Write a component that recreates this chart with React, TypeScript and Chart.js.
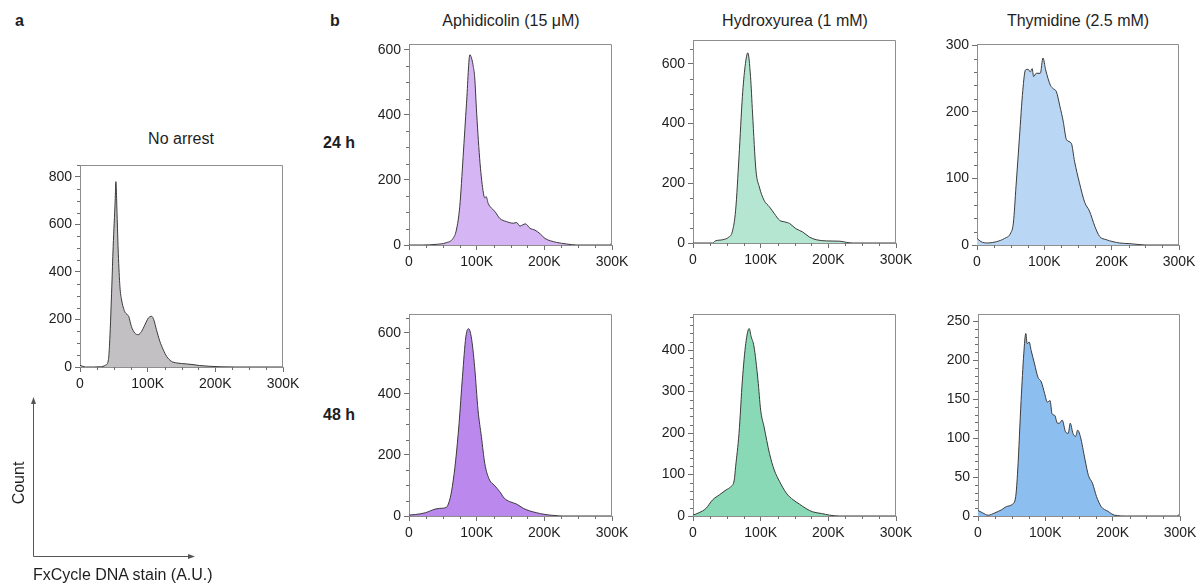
import React, { useEffect, useRef } from 'react';
import { Chart, registerables } from 'chart.js';

Chart.register(...registerables);

const FONT = '"Liberation Sans", Arial, Helvetica, sans-serif';

// ---- Data (x in K units of FxCycle stain, y = count) ----
const noArrestX = [0, 4, 8, 20, 30, 38, 42, 44, 47, 49, 52, 53, 55, 56.6, 59, 61.5, 66, 70, 72, 76, 81, 86, 91, 96, 101, 106, 109, 113, 118, 123, 128, 135, 143, 157, 167, 177, 192, 207, 230, 300];
const noArrestY = [7, 3, 0, 0, 1, 8, 31, 115, 338, 506, 702, 780, 620, 478, 338, 282, 234, 220, 213, 170, 143, 136, 150, 178, 206, 213, 199, 157, 108, 73, 45, 24, 17, 13, 10, 6, 3, 1, 0, 0];

const aph24X = [0, 20, 40, 55, 65, 70, 75, 80, 85, 90, 93, 95, 97, 100, 105, 110, 112, 114, 117, 122, 127, 134, 144, 154, 159, 164, 168, 172, 179, 186, 194, 201, 209, 218, 233, 248, 296, 300];
const aph24Y = [0, 0, 2, 7, 20, 46, 118, 272, 436, 585, 570, 549, 518, 405, 251, 159, 145, 149, 128, 113, 103, 82, 72, 67, 69, 58, 62, 65, 51, 46, 34, 20, 13, 8, 3, 0, 0, 7];

const hyd24X = [0, 29, 33, 44, 53, 58, 63, 68, 73, 77, 81, 85, 88, 93, 98, 105, 113, 120, 128, 135, 140, 143, 152, 162, 172, 182, 197, 217, 227, 237, 300];
const hyd24Y = [0, 0, 7, 11, 20, 37, 110, 289, 491, 592, 637, 558, 435, 244, 188, 143, 121, 99, 76, 71, 68, 65, 48, 37, 20, 11, 7, 6, 2, 0, 0];

const thy24X = [0, 6, 16, 29, 41, 50, 54, 58, 63, 68, 72, 76, 79, 82, 84, 88, 94, 98, 102, 109, 113, 118, 123, 128, 133, 140, 145, 152, 160, 167, 175, 182, 192, 202, 212, 227, 251, 300];
const thy24Y = [10, 5, 3, 5, 10, 18, 33, 89, 161, 232, 263, 264, 260, 265, 253, 258, 258, 281, 263, 240, 235, 230, 209, 186, 158, 153, 125, 94, 64, 51, 28, 13, 8, 5, 3, 2, 0, 0];

const aph48X = [0, 10, 25, 35, 45, 55, 60, 64, 69, 74, 79, 84, 88, 92, 97, 102, 107, 112, 119, 126, 134, 141, 149, 159, 169, 178, 188, 201, 213, 228, 300];
const aph48Y = [3, 5, 11, 20, 25, 28, 52, 96, 183, 303, 456, 587, 614, 587, 489, 347, 260, 172, 118, 101, 80, 58, 47, 39, 25, 17, 11, 5, 2, 0, 0];

const hyd48X = [0, 9, 19, 29, 39, 49, 56, 61, 63, 68, 73, 78, 83, 86, 90, 96, 100, 105, 113, 120, 128, 138, 148, 157, 167, 177, 190, 202, 217, 300];
const hyd48Y = [2, 8, 18, 39, 51, 63, 71, 87, 119, 199, 328, 416, 452, 432, 410, 328, 255, 215, 151, 111, 83, 55, 39, 29, 18, 10, 6, 2, 0, 0];

const thy48X = [0, 7, 15, 25, 35, 42, 51, 56, 59, 64, 68, 71, 73, 76, 79, 84, 89, 94, 99, 103, 107, 110, 114, 118, 121, 125, 130, 134, 137, 141, 145, 148, 152, 159, 164, 170, 176, 183, 193, 203, 221, 295, 300];
const thy48Y = [7, 4, 1, 4, 8, 12, 15, 25, 59, 148, 208, 234, 221, 223, 212, 195, 178, 172, 157, 146, 148, 131, 129, 119, 119, 123, 108, 106, 119, 106, 102, 110, 102, 72, 52, 42, 25, 12, 6, 1, 0, 0, 3];

const xMajorTicks = [0, 100, 200, 300];

type Spec = {
  key: string;
  xs: number[];
  ys: number[];
  color: string;
  left: number;
  top: number;
  width: number;
  height: number;
  yMax: number;
  yMajor: number;
  yMinor: number;
};

const panels: Spec[] = [
  { key: 'noarrest', xs: noArrestX, ys: noArrestY, color: '#c2c0c2', left: 80, top: 165, width: 203, height: 202, yMax: 850, yMajor: 200, yMinor: 50 },
  { key: 'aph24', xs: aph24X, ys: aph24Y, color: '#d6b5f5', left: 409, top: 44, width: 203, height: 201, yMax: 618, yMajor: 200, yMinor: 50 },
  { key: 'hyd24', xs: hyd24X, ys: hyd24Y, color: '#b4e6d1', left: 693, top: 40, width: 203, height: 203, yMax: 680, yMajor: 200, yMinor: 50 },
  { key: 'thy24', xs: thy24X, ys: thy24Y, color: '#b9d7f5', left: 977, top: 44, width: 202, height: 201, yMax: 302, yMajor: 100, yMinor: 20 },
  { key: 'aph48', xs: aph48X, ys: aph48Y, color: '#bb88ee', left: 409, top: 314, width: 203, height: 202, yMax: 662, yMajor: 200, yMinor: 50 },
  { key: 'hyd48', xs: hyd48X, ys: hyd48Y, color: '#8ad9b6', left: 693, top: 314, width: 203, height: 202, yMax: 487, yMajor: 100, yMinor: 20 },
  { key: 'thy48', xs: thy48X, ys: thy48Y, color: '#8dbef0', left: 978, top: 314, width: 202, height: 202, yMax: 259, yMajor: 50, yMinor: 10 },
];

const PL = 50;
const PT = 12;
const PR = 30;
const PB = 38;

const boxPlugin = {
  id: 'box',
  afterDraw(chart: any, _args: any, opts: any) {
    const { ctx, chartArea, scales } = chart;
    const { left, right, top, bottom } = chartArea;
    const x = scales.x;
    const y = scales.y;
    ctx.save();
    ctx.strokeStyle = '#8e8e8e';
    ctx.lineWidth = 1;
    ctx.beginPath();
    ctx.moveTo(Math.round(left) + 0.5, Math.round(top) + 0.5);
    ctx.lineTo(Math.round(right) - 0.5, Math.round(top) + 0.5);
    ctx.lineTo(Math.round(right) - 0.5, Math.round(bottom) + 0.5);
    ctx.stroke();
    ctx.strokeStyle = '#6e6e6e';
    ctx.beginPath();
    for (let v = opts.xMinor; v < 300; v += opts.xMinor) {
      if (v % 100 === 0) continue;
      const px = Math.round(x.getPixelForValue(v)) + 0.5;
      ctx.moveTo(px, bottom);
      ctx.lineTo(px, bottom + 3);
    }
    for (let v = opts.yMinor; v <= opts.yMax; v += opts.yMinor) {
      if (v % opts.yMajor === 0) continue;
      const py = Math.round(y.getPixelForValue(v)) + 0.5;
      ctx.moveTo(left - 3, py);
      ctx.lineTo(left, py);
    }
    ctx.stroke();
    ctx.restore();
  },
};

function Histogram({ spec }: { spec: Spec }) {
  const ref = useRef<HTMLCanvasElement>(null);
  useEffect(() => {
    if (!ref.current) return;
    const yTicks: number[] = [];
    for (let v = 0; v <= spec.yMax; v += spec.yMajor) yTicks.push(v);
    const chart = new Chart(ref.current, {
      type: 'line',
      data: {
        datasets: [
          {
            data: spec.xs.map((xv, i) => ({ x: xv, y: spec.ys[i] })),
            fill: 'origin',
            backgroundColor: spec.color,
            borderColor: '#3a3a3a',
            borderWidth: 1,
            pointRadius: 0,
            cubicInterpolationMode: 'monotone',
          },
        ],
      },
      options: {
        responsive: false,
        animation: false,
        events: [],
        layout: { padding: { left: 0, top: PT, right: PR, bottom: 0 } },
        plugins: {
          legend: { display: false },
          tooltip: { enabled: false },
          box: { xMinor: 25, yMinor: spec.yMinor, yMajor: spec.yMajor, yMax: spec.yMax },
        } as any,
        scales: {
          x: {
            type: 'linear',
            min: 0,
            max: 300,
            afterFit: (s: any) => {
              s.height = PB;
            },
            afterBuildTicks: (s: any) => {
              s.ticks = xMajorTicks.map((v) => ({ value: v }));
            },
            ticks: {
              autoSkip: false,
              maxRotation: 0,
              padding: 4,
              color: '#1e1e1e',
              font: { family: FONT, size: 14 },
              callback: (v: any) => (Number(v) === 0 ? '0' : `${v}K`),
            },
            grid: { display: true, drawOnChartArea: false, drawTicks: true, tickLength: 5, color: '#6e6e6e', lineWidth: 1 },
            border: { display: true, color: '#8e8e8e', width: 1 },
          },
          y: {
            type: 'linear',
            min: 0,
            max: spec.yMax,
            afterFit: (s: any) => {
              s.width = PL;
            },
            afterBuildTicks: (s: any) => {
              s.ticks = yTicks.map((v) => ({ value: v }));
            },
            ticks: {
              autoSkip: false,
              padding: 3,
              color: '#1e1e1e',
              font: { family: FONT, size: 14 },
              callback: (v: any) => String(v),
            },
            grid: { display: true, drawOnChartArea: false, drawTicks: true, tickLength: 5, color: '#6e6e6e', lineWidth: 1 },
            border: { display: true, color: '#8e8e8e', width: 1 },
          },
        },
      } as any,
      plugins: [boxPlugin as any],
    });
    return () => chart.destroy();
  }, [spec]);
  return (
    <canvas
      ref={ref}
      width={spec.width + PL + PR}
      height={spec.height + PT + PB}
      style={{ position: 'absolute', left: spec.left - PL, top: spec.top - PT, width: spec.width + PL + PR, height: spec.height + PT + PB }}
    />
  );
}

function Label({ text, x, baseline, size = 16, bold = false, align = 'left' }: { text: string; x: number; baseline: number; size?: number; bold?: boolean; align?: 'left' | 'center' }) {
  const top = baseline - size * 0.846;
  const style: React.CSSProperties = {
    position: 'absolute',
    top,
    fontFamily: FONT,
    fontSize: size,
    lineHeight: `${size}px`,
    fontWeight: bold ? 700 : 400,
    color: '#1e1e1e',
    whiteSpace: 'nowrap',
  };
  if (align === 'center') {
    style.left = x - 200;
    style.width = 400;
    style.textAlign = 'center';
  } else {
    style.left = x;
  }
  return <div style={style}>{text}</div>;
}

export default function App() {
  return (
    <div style={{ position: 'absolute', left: 0, top: 0, width: 1202, height: 585, background: '#fff', overflow: 'hidden' }}>
      <Label text="a" x={15} baseline={27} bold />
      <Label text="b" x={330} baseline={27} bold />
      <Label text="Aphidicolin (15 μM)" x={511} baseline={27} align="center" />
      <Label text="Hydroxyurea (1 mM)" x={795} baseline={27} align="center" />
      <Label text="Thymidine (2.5 mM)" x={1078} baseline={27} align="center" />
      <Label text="No arrest" x={181} baseline={145} align="center" />
      <Label text="24 h" x={323} baseline={149} bold />
      <Label text="48 h" x={323} baseline={421} bold />
      {panels.map((p) => (
        <Histogram key={p.key} spec={p} />
      ))}
      <svg width={1202} height={585} style={{ position: 'absolute', left: 0, top: 0, pointerEvents: 'none' }}>
        <line x1={33.5} y1={556.5} x2={33.5} y2={403} stroke="#555" strokeWidth={1} />
        <polygon points="33.5,397 31,404 36,404" fill="#555" />
        <line x1={33.5} y1={556.5} x2={189} y2={556.5} stroke="#555" strokeWidth={1} />
        <polygon points="195,556.5 188,554 188,559" fill="#555" />
      </svg>
      <div
        style={{
          position: 'absolute',
          left: 19 - 40,
          top: 483 - 9,
          width: 80,
          height: 18,
          lineHeight: '18px',
          textAlign: 'center',
          fontFamily: FONT,
          fontSize: 16,
          color: '#1e1e1e',
          transform: 'rotate(-90deg)',
        }}
      >
        Count
      </div>
      <Label text="FxCycle DNA stain (A.U.)" x={33} baseline={581} />
    </div>
  );
}
